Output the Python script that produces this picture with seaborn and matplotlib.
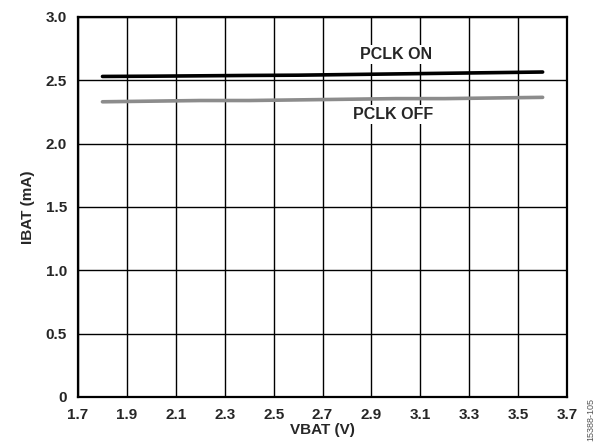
import numpy as np
import pandas as pd
import seaborn as sns
import matplotlib.pyplot as plt
from matplotlib.ticker import FuncFormatter

# supply voltage sweep (V) and battery current (mA)
vbat = [1.8, 2.0, 2.2, 2.4, 2.6, 2.8, 3.0, 3.2, 3.4, 3.6]
ibat_pclk_on = [2.53, 2.532, 2.535, 2.538, 2.54, 2.545, 2.55, 2.555, 2.56, 2.565]
ibat_pclk_off = [2.33, 2.335, 2.34, 2.34, 2.345, 2.35, 2.355, 2.355, 2.36, 2.365]

x_ticks = [1.7, 1.9, 2.1, 2.3, 2.5, 2.7, 2.9, 3.1, 3.3, 3.5, 3.7]
y_ticks = [0, 0.5, 1.0, 1.5, 2.0, 2.5, 3.0]

df = pd.DataFrame({
    'vbat': vbat * 2,
    'ibat': ibat_pclk_on + ibat_pclk_off,
    'mode': ['PCLK ON'] * len(vbat) + ['PCLK OFF'] * len(vbat),
})

sns.set_style("white")
plt.rcParams['font.family'] = ['Liberation Sans', 'DejaVu Sans']

fig = plt.figure(figsize=(6.02, 4.45), dpi=100)
ax = fig.add_axes([0.1296, 0.108, 0.8124, 0.854])

sns.lineplot(data=df, x='vbat', y='ibat', hue='mode',
             palette={'PCLK ON': '#000000', 'PCLK OFF': '#8c8c8c'},
             linewidth=2.6, legend=False, ax=ax, zorder=3)

ax.set_xlim(1.7, 3.7)
ax.set_ylim(0, 3.0)
ax.set_xticks(x_ticks)
ax.set_yticks(y_ticks)
ax.yaxis.set_major_formatter(FuncFormatter(lambda v, p: '0' if v == 0 else f'{v:.1f}'))
ax.grid(True, color='#000000', linewidth=1.0)
ax.tick_params(length=0, labelsize=11)
ax.tick_params(axis='y', pad=8)
ax.tick_params(axis='x', pad=8)
for lbl in ax.get_xticklabels() + ax.get_yticklabels():
    lbl.set_fontweight('bold')
for s in ax.spines.values():
    s.set_color('#000000')
    s.set_linewidth(1.6)

ax.set_xlabel("VBAT (V)", fontsize=11, fontweight='bold', labelpad=1)
ax.set_ylabel("IBAT (mA)", fontsize=11, fontweight='bold', labelpad=8)

box = dict(facecolor='white', edgecolor='none', pad=1.5)
ax.text(3.0, 2.70, "PCLK ON", fontsize=11.5, fontweight='bold', ha='center', va='center', bbox=box)
ax.text(2.99, 2.23, "PCLK OFF", fontsize=11.5, fontweight='bold', ha='center', va='center', bbox=box)

fig.text(0.982, 0.105, "15388-105", rotation=90, fontsize=6.5, color='#555555',
         ha='center', va='top')

fig.savefig("out.png", dpi=100)
